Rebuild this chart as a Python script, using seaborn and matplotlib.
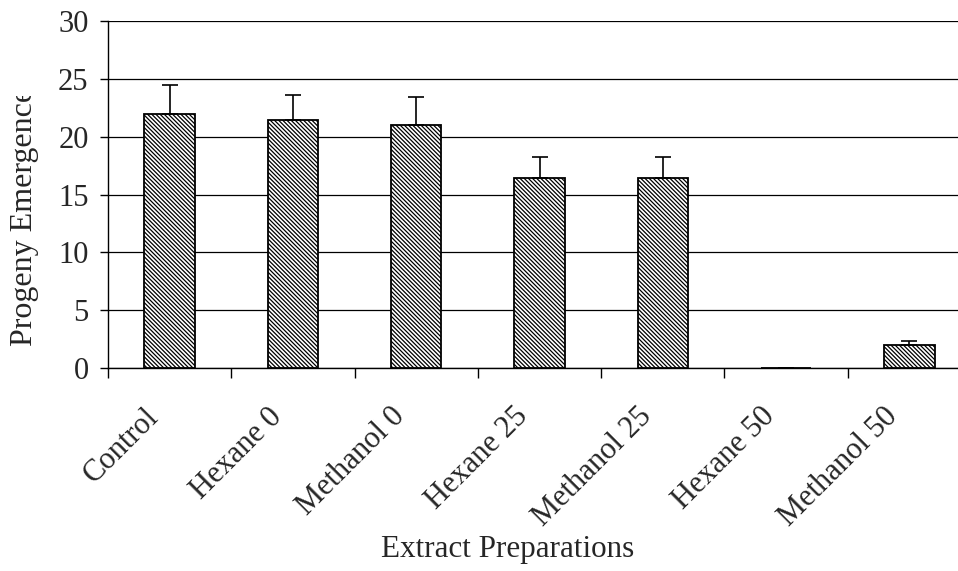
import matplotlib
matplotlib.use("Agg")
import matplotlib.pyplot as plt
import seaborn as sns
import pandas as pd
import numpy as np
from matplotlib.transforms import Bbox, ScaledTranslation

categories = ["Control", "Hexane 0", "Methanol 0", "Hexane 25", "Methanol 25", "Hexane 50", "Methanol 50"]
means = [22.0, 21.4, 21.0, 16.4, 16.4, 0.0, 2.0]
errors = [2.5, 2.2, 2.4, 1.8, 1.8, 0.0, 0.3]
y_ticks = [0, 5, 10, 15, 20, 25, 30]

sns.set_theme(style="white")
plt.rcParams["font.family"] = ["Liberation Serif", "DejaVu Serif"]
plt.rcParams["hatch.linewidth"] = 0.9
plt.rcParams["hatch.color"] = "#333333"

df = pd.DataFrame({"cat": categories, "val": means})

W, H = 958, 571
fig = plt.figure(figsize=(W / 100, H / 100), dpi=100)
left, right, top, bottom = 108, 971, 21, 368
ax = fig.add_axes([left / W, 1 - bottom / H, (right - left) / W, (bottom - top) / H])

sns.barplot(data=df, x="cat", y="val", ax=ax, color="white", width=0.41,
            edgecolor="black", linewidth=1.3, hatch="\\" * 8, errorbar=None, zorder=3)

x = np.arange(len(categories))
ax.errorbar(x, means, yerr=[np.zeros(len(errors)), errors], fmt="none",
            ecolor="black", elinewidth=1.2, capsize=6, capthick=1.2, zorder=4)

ax.set_ylim(0, 30)
ax.set_xlim(-0.5, len(categories) - 0.5)
ax.set_yticks(y_ticks)
ax.set_yticklabels([str(t) for t in y_ticks], fontsize=22)
ax.yaxis.grid(True, color="black", linewidth=0.9, zorder=0)
ax.set_axisbelow(True)

# category boundary ticks on the x axis
ax.set_xticks(np.arange(len(categories) + 1) - 0.5, minor=False)
ax.set_xticklabels([])
ax.tick_params(axis="x", which="major", direction="out", length=7, width=1, color="black", bottom=True)
ax.set_xticks(x, minor=True)
ax.set_xticklabels(categories, minor=True, rotation=45, ha="right", rotation_mode="anchor", fontsize=22)
ax.tick_params(axis="x", which="minor", length=0, pad=8)
ax.tick_params(axis="y", direction="out", length=6, width=1, color="black", left=True, pad=8)

# push the slanted category names down along their own direction
shift = ScaledTranslation(-0.26, -0.23, fig.dpi_scale_trans)
for lab in ax.get_xticklabels(minor=True):
    lab.set_transform(lab.get_transform() + shift)

for s in ["top", "right"]:
    ax.spines[s].set_visible(False)
for s in ["left", "bottom"]:
    ax.spines[s].set_color("black")
    ax.spines[s].set_linewidth(1)

ax.set_xlabel("Extract Preparations", fontsize=22.4)
ax.xaxis.set_label_coords((508 - left) / (right - left), (bottom - 550) / (bottom - top))
ax.xaxis.label.set_va("center")

ylab = ax.set_ylabel("Progeny Emergence", fontsize=23)
ax.yaxis.set_label_coords((25 - left) / (right - left), (bottom - 217) / (bottom - top))
ylab.set_va("center")
ylab.set_clip_box(Bbox.from_extents(0, 0, W, H - 96))
ylab.set_clip_on(True)

fig.savefig("out.png", dpi=100)
